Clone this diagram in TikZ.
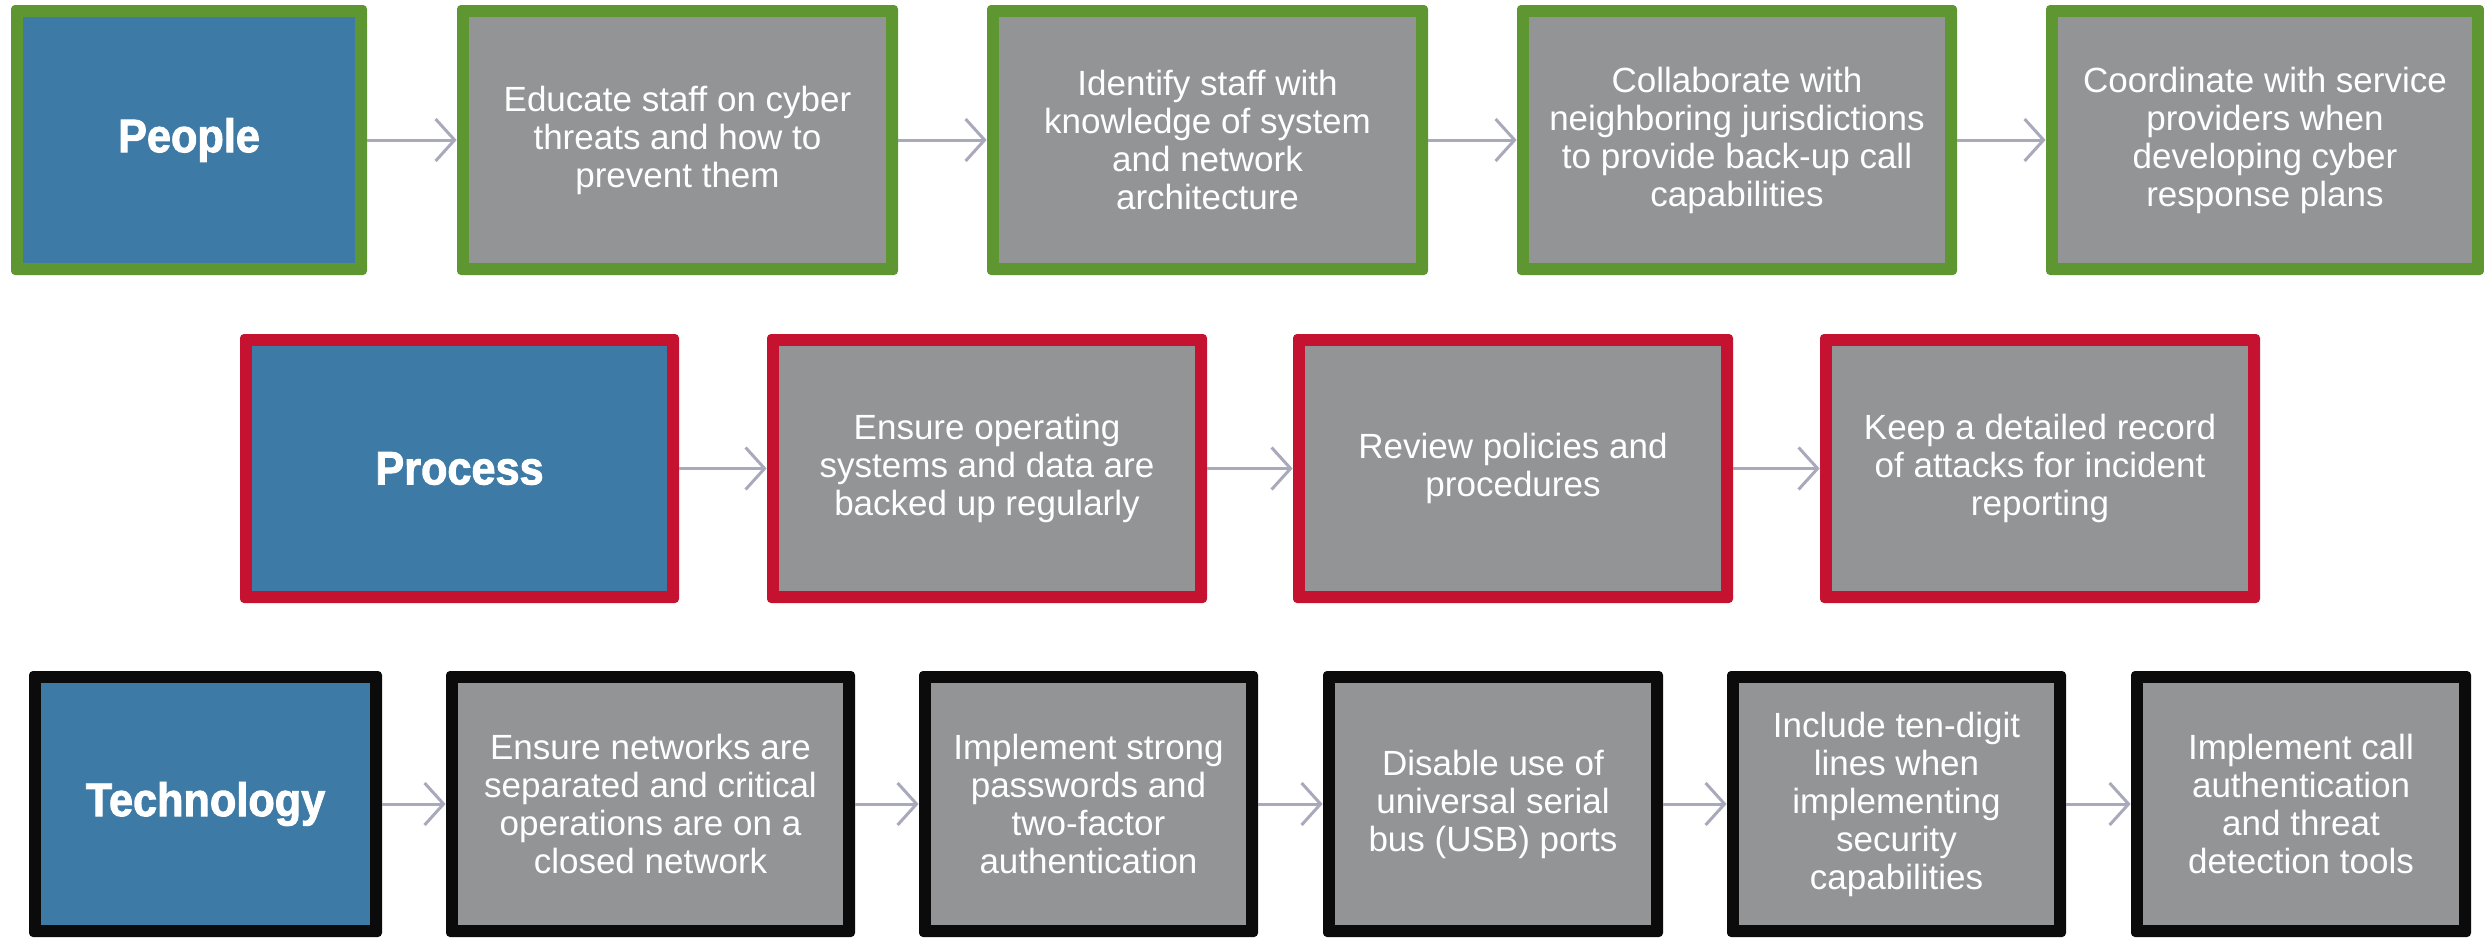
\documentclass[tikz,border=0pt]{standalone}
\usepackage{fontspec}
\setmainfont{Liberation Sans}
\newfontfamily\bodyfont{Liberation Sans}
\newfontfamily\headfont{Liberation Sans Bold}[FakeStretch=0.92,FakeBold=2]
\usetikzlibrary{arrows.meta}

\definecolor{tileblue}{HTML}{3D7BA6}
\definecolor{tilegrey}{HTML}{939496}
\definecolor{rimgreen}{HTML}{5E9732}
\definecolor{rimred}{HTML}{C41230}
\definecolor{rimblack}{HTML}{0B0B0B}
\definecolor{linkcol}{HTML}{A9A9BC}

\tikzset{
  cell/.style 2 args={rectangle, rounded corners=2pt, inner sep=0pt,
    fill=#1, text=white, align=center,
    path picture={\fill[#2, sharp corners]
      ([xshift=6pt,yshift=-6pt]path picture bounding box.north west) rectangle
      ([xshift=-6pt,yshift=6pt]path picture bounding box.south east);}},
  headbox/.style={cell={#1}{tileblue}, font=\headfont\fontsize{23.5}{26}\selectfont},
  stepbox/.style={cell={#1}{tilegrey}, font=\bodyfont\fontsize{17.5}{19}\selectfont},
  rowA/.style={minimum height=135pt},
  rowB/.style={minimum height=134.5pt},
  rowC/.style={minimum height=133pt},
  link/.style={draw=linkcol, line width=1.5pt,
    -{Straight Barb[length=9.5pt,width=21pt,line width=1.5pt]}},
}

\begin{document}
\begin{tikzpicture}[x=0.5pt,y=-0.5pt]
\useasboundingbox (0,0) rectangle (2484,937);

% People
\node[headbox=rimgreen, rowA, minimum width=178pt] (p0) at (189,140) {People};
\node[stepbox=rimgreen, rowA, minimum width=220.5pt] (p1) at (677.5,140)
  {Educate staff on cyber\\threats and how to\\prevent them};
\node[stepbox=rimgreen, rowA, minimum width=220.5pt] (p2) at (1207.5,140)
  {Identify staff with\\knowledge of system\\and network\\architecture};
\node[stepbox=rimgreen, rowA, minimum width=220pt] (p3) at (1737,140)
  {Collaborate with\\neighboring jurisdictions\\to provide back-up call\\capabilities};
\node[stepbox=rimgreen, rowA, minimum width=219pt] (p4) at (2265,140)
  {Coordinate with service\\providers when\\developing cyber\\response plans};

% Process
\node[headbox=rimred, rowB, minimum width=219.5pt] (r0) at (459.5,468.5) {Process};
\node[stepbox=rimred, rowB, minimum width=220pt] (r1) at (987,468.5)
  {Ensure operating\\systems and data are\\backed up regularly};
\node[stepbox=rimred, rowB, minimum width=220pt] (r2) at (1513,468.5)
  {Review policies and\\procedures};
\node[stepbox=rimred, rowB, minimum width=220pt] (r3) at (2040,468.5)
  {Keep a detailed record\\of attacks for incident\\reporting};

% Technology
\node[headbox=rimblack, rowC, minimum width=176.5pt] (t0) at (205.5,804) {Technology};
\node[stepbox=rimblack, rowC, minimum width=204.5pt] (t1) at (650.5,804)
  {Ensure networks are\\separated and critical\\operations are on a\\closed network};
\node[stepbox=rimblack, rowC, minimum width=169.5pt] (t2) at (1088.5,804)
  {Implement strong\\passwords and\\two-factor\\authentication};
\node[stepbox=rimblack, rowC, minimum width=170pt] (t3) at (1493,804)
  {Disable use of\\universal serial\\bus (USB) ports};
\node[stepbox=rimblack, rowC, minimum width=169.5pt] (t4) at (1896.5,804)
  {Include ten-digit\\lines when\\implementing\\security\\capabilities};
\node[stepbox=rimblack, rowC, minimum width=170pt] (t5) at (2301,804)
  {Implement call\\authentication\\and threat\\detection tools};

% Connectors
\foreach \a/\b in {p0/p1,p1/p2,p2/p3,p3/p4,r0/r1,r1/r2,r2/r3,t0/t1,t1/t2,t2/t3,t3/t4,t4/t5}
  \draw[link] (\a.east) -- (\b.west);
\end{tikzpicture}
\end{document}
